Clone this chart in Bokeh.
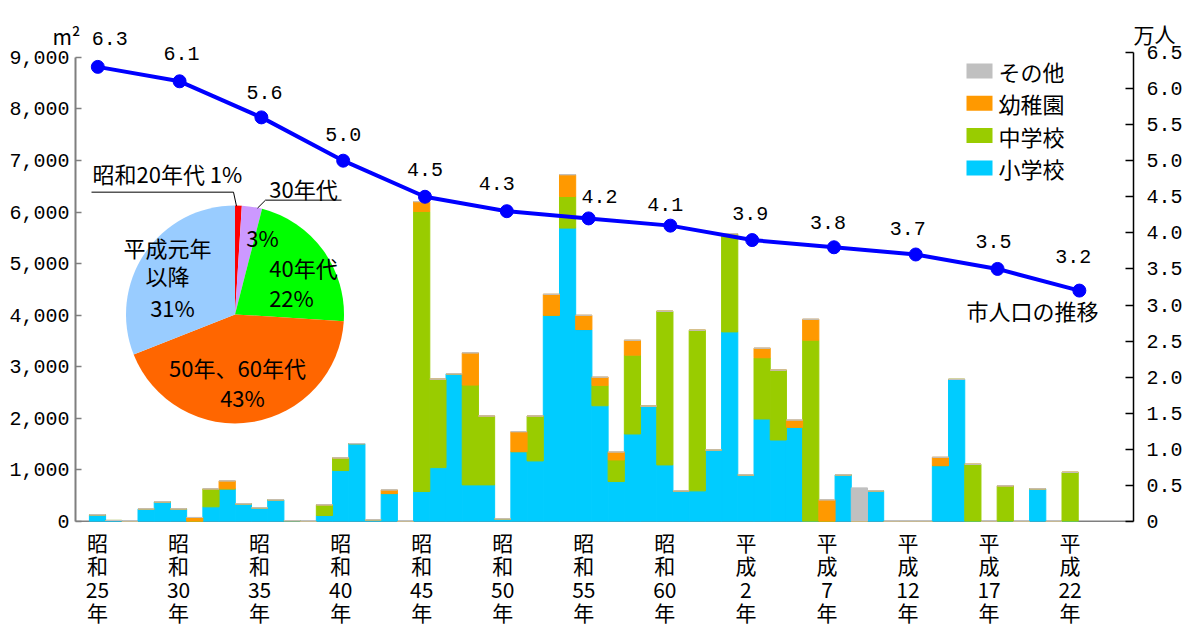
from bokeh.plotting import figure
from bokeh.models import (Range1d, LinearAxis, FixedTicker, NumeralTickFormatter,
                          ColumnDataSource, LabelSet, Span)
from bokeh.core.properties import value
from bokeh.embed import file_html
from bokeh.resources import INLINE
import math

# ---- data -------------------------------------------------------------
years = list(range(1950, 2011))

# floor area built per year (m2), by facility type
elementary = [
    130, 20, 0, 245, 381, 245, 0, 285, 633, 343,            # 1950-1959
    265, 420, 14, 0, 116, 988, 1510, 33, 542, 0,            # 1960-1969
    581, 1045, 2864, 710, 710, 52, 1355, 1175, 4000, 5690,  # 1970-1979
    3723, 2245, 775, 1697, 2239, 1097, 594, 594, 1388, 3677,  # 1980-1989
    904, 1988, 1581, 1827, 0, 0, 904, 0, 594, 0,            # 1990-1999
    0, 0, 1084, 2756, 0, 0, 0, 0, 633, 0,                   # 2000-2009
    0,                                                      # 2010
]
junior_high = [
    0, 0, 0, 0, 0, 0, 0, 348, 0, 0,
    0, 0, 0, 0, 207, 245, 0, 0, 0, 0,
    5432, 1717, 0, 1936, 1336, 0, 0, 871, 0, 613,
    0, 395, 419, 1529, 0, 2981, 0, 3116, 0, 1903,
    0, 1187, 1355, 0, 3516, 0, 0, 0, 0, 0,
    0, 0, 0, 0, 1110, 0, 691, 0, 0, 0,
    955,
]
kindergarten = [
    0, 0, 0, 0, 0, 0, 78, 0, 155, 0,
    0, 0, 0, 0, 0, 0, 0, 0, 71, 0,
    190, 0, 0, 625, 0, 0, 387, 0, 407, 423,
    277, 160, 155, 290, 0, 0, 0, 0, 0, 0,
    0, 187, 0, 141, 407, 420, 0, 0, 0, 0,
    0, 0, 162, 0, 0, 0, 0, 0, 0, 0,
    0,
]
other = [
    0, 0, 0, 0, 0, 0, 0, 0, 0, 0,
    0, 0, 0, 0, 0, 0, 0, 0, 0, 0,
    0, 0, 0, 0, 0, 0, 0, 0, 0, 0,
    0, 0, 0, 0, 0, 0, 0, 0, 0, 0,
    0, 0, 0, 0, 0, 0, 0, 652, 0, 0,
    0, 0, 0, 0, 0, 0, 0, 0, 0, 0,
    0,
]

series_names = ["小学校", "中学校", "幼稚園", "その他"]
series_colors = ["#00CCFF", "#99CC00", "#FF9900", "#C0C0C0"]

# city population (10,000 persons)
pop_years = [1950, 1955, 1960, 1965, 1970, 1975, 1980, 1985, 1990, 1995, 2000, 2005, 2010]
population = [6.3, 6.1, 5.6, 5.0, 4.5, 4.3, 4.2, 4.1, 3.9, 3.8, 3.7, 3.5, 3.2]

tick_years = [1950, 1955, 1960, 1965, 1970, 1975, 1980, 1985, 1990, 1995, 2000, 2005, 2010]
tick_labels = ["昭和25年", "昭和30年", "昭和35年", "昭和40年", "昭和45年", "昭和50年",
               "昭和55年", "昭和60年", "平成2年", "平成7年", "平成12年", "平成17年", "平成22年"]

# share of floor area by construction period (%)
pie_labels = ["昭和20年代", "30年代", "40年代", "50年、60年代", "平成元年以降"]
pie_shares = [1, 3, 22, 43, 31]
pie_colors = ["#FF0000", "#CC99FF", "#00FF00", "#FF6600", "#99CCFF"]

# unit captions above the two value axes
unit_left, unit_right = "m²", "万人"

# ---- styling ----------------------------------------------------------
JP_NAME = "Noto Sans CJK JP"
NUM_NAME = "Liberation Mono"
JP = value(JP_NAME)
NUM = value(NUM_NAME)
W, H = 1189, 630
FL, FR, FT, FB = 75, 1133, 30, 522          # frame edges in canvas pixels
AREA_PX = 51.67                             # px per 1,000 m2
POP_PX = 72.31                              # px per 10,000 persons


def sy(y):
    """canvas y (from top) -> 'px' range value (from bottom)"""
    return H - y


p = figure(width=W, height=H, output_backend="svg", toolbar_location=None,
           x_range=Range1d(1948.643, 2013.91),
           y_range=Range1d(0, (FB - FT) / AREA_PX * 1000),
           x_axis_location=None, y_axis_location="left",
           min_border_left=FL, min_border_right=W - FR,
           min_border_top=FT, min_border_bottom=H - FB)
p.extra_x_ranges = {"line": Range1d(1948.637, 2013.31), "px": Range1d(FL, FR)}
p.extra_y_ranges = {"pop": Range1d(0, (FB - FT) / POP_PX),
                    "px": Range1d(H - FB, H - FT)}
p.grid.visible = False
p.outline_line_color = None
p.background_fill_color = "white"
p.border_fill_color = "white"

# left axis: floor area
ax = p.yaxis[0]
ax.ticker = FixedTicker(ticks=list(range(0, 9001, 1000)))
ax.formatter = NumeralTickFormatter(format="0,0")
ax.bounds = (0, 9000)
ax.major_tick_in = 6
ax.major_tick_out = 0
ax.minor_tick_line_color = None
ax.axis_line_color = "#7F7F7F"
ax.axis_line_width = 2
ax.major_tick_line_color = "#7F7F7F"
ax.major_tick_line_width = 1.5
ax.major_label_text_font = NUM_NAME
ax.major_label_text_font_size = "20px"
ax.major_label_text_color = "black"
ax.major_label_standoff = 6

# right axis: population
rax = LinearAxis(y_range_name="pop",
                 ticker=FixedTicker(ticks=[i * 0.5 for i in range(14)]),
                 formatter=NumeralTickFormatter(format="0.0"),
                 bounds=(0, 6.5))
rax.major_label_overrides = {0: "0"}
rax.major_tick_in = 8
rax.major_tick_out = 0
rax.minor_tick_line_color = None
rax.axis_line_color = "black"
rax.axis_line_width = 1.5
rax.major_tick_line_width = 1.5
rax.major_label_text_font = NUM_NAME
rax.major_label_text_font_size = "20px"
rax.major_label_text_color = "black"
rax.major_label_standoff = 13
p.add_layout(rax, "right")


# unit captions: one label-only strip per value axis, pinned to the frame edge.
# A vanishingly small tilt makes the label hang to the left (negative) or to
# the right (positive) of its tick instead of being centred on it.
def caption_axis(x, text, tilt, standoff):
    a = LinearAxis(x_range_name="px", ticker=FixedTicker(ticks=[x]))
    a.major_label_overrides = {x: text}
    a.major_label_orientation = tilt
    a.axis_line_color = None
    a.major_tick_line_color = None
    a.minor_tick_line_color = None
    a.major_tick_in = 0
    a.major_tick_out = 0
    a.major_label_text_font = JP_NAME
    a.major_label_text_font_size = "21px"
    a.major_label_text_color = "black"
    a.major_label_standoff = standoff
    return a


p.add_layout(caption_axis(80, unit_left, -1e-4, -6), "above")
p.add_layout(caption_axis(FR, unit_right, 1e-4, -30), "above")

# bottom axis: era/year labels stacked one character per line
bax = LinearAxis(ticker=FixedTicker(ticks=tick_years))
bax.major_label_overrides = {
    yr: "\n".join([lab[0], lab[1], lab[2:-1], lab[-1]])
    for yr, lab in zip(tick_years, tick_labels)
}
bax.axis_line_color = None
bax.major_tick_line_color = None
bax.minor_tick_line_color = None
bax.major_tick_in = 0
bax.major_tick_out = 0
bax.major_label_text_font = JP_NAME
bax.major_label_text_font_size = "21px"
bax.major_label_text_line_height = 0.786
bax.major_label_text_color = "black"
bax.major_label_standoff = 5
p.add_layout(bax, "below")

# baseline
p.add_layout(Span(location=0, dimension="width", line_color="black",
                  line_width=1.5, level="underlay"))

# stacked bars
src = ColumnDataSource(dict(year=years, elem=elementary, jh=junior_high,
                            kg=kindergarten, oth=other))
p.vbar_stack(["elem", "jh", "kg", "oth"], x="year", width=1.0,
             color=series_colors, source=src)

# population line
p.line(pop_years, population, x_range_name="line", y_range_name="pop",
       line_width=4, color="#0000FF")
p.scatter(pop_years, population, x_range_name="line", y_range_name="pop",
          size=13, color="#0000FF")

# value labels next to each point (small per-label nudges in px)
label_dx = [12, 2, 3, 0, 0, -10, 11, -5, -2, -6, -8, -4, -6]
label_dy = [28, 28, 25, 26, 27, 28, 22, 21, 27, 25, 26, 27, 34]
pop_src = ColumnDataSource(dict(x=pop_years, y=population,
                                t=[f"{v:.1f}" for v in population],
                                dx=label_dx, dy=label_dy))
p.add_layout(LabelSet(x="x", y="y", text="t", x_offset="dx", y_offset="dy",
                      source=pop_src, x_range_name="line", y_range_name="pop",
                      text_font=NUM, text_font_size="20px", text_color="black",
                      text_align="center", text_baseline="middle"))
p.text(x=[1032], y=[sy(310)], text=["市人口の推移"], x_range_name="px", y_range_name="px",
       text_font=JP, text_font_size="22px", text_align="center",
       text_baseline="middle", text_color="black")

# legend (top entry first: その他 ... 小学校)
leg_names = series_names[::-1]
leg_colors = series_colors[::-1]
leg_y = [sy(70.5 + 32.4 * i) for i in range(len(leg_names))]
p.rect(x=[979] * len(leg_names), y=leg_y, width=26, height=15,
       x_range_name="px", y_range_name="px", fill_color=leg_colors, line_color=None)
p.text(x=[998] * len(leg_names), y=leg_y, text=leg_names,
       x_range_name="px", y_range_name="px", text_font=JP, text_font_size="22px",
       text_align="left", text_baseline="middle", text_color="black")

# pie of construction periods
cx, cy, rad = 234.5, sy(314.5), 109
cum = [0]
for s in pie_shares:
    cum.append(cum[-1] + s)
tot = float(cum[-1])
starts = [math.pi / 2 - 2 * math.pi * c / tot for c in cum[:-1]]
ends = [math.pi / 2 - 2 * math.pi * c / tot for c in cum[1:]]
p.wedge(x=[cx] * len(pie_shares), y=[cy] * len(pie_shares), radius=rad,
        start_angle=starts, end_angle=ends, direction="clock",
        fill_color=pie_colors, line_color=None,
        x_range_name="px", y_range_name="px")

# leader lines for the two small slices
p.line([91, 233, 236], [sy(192), sy(192), sy(206)], x_range_name="px", y_range_name="px",
       line_color="black", line_width=1)
p.line([341, 265, 257], [sy(200), sy(200), sy(208)], x_range_name="px", y_range_name="px",
       line_color="black", line_width=1)

p.text(x=[92], y=[sy(173)], text=[f"{pie_labels[0]} {pie_shares[0]}%"],
       x_range_name="px", y_range_name="px", text_font=JP, text_font_size="22px",
       text_align="left", text_baseline="middle", text_color="black")
pie_text = [
    (pie_labels[1], 303, 188),
    (f"{pie_shares[1]}%", 262, 237),
    (pie_labels[2], 303, 267),
    (f"{pie_shares[2]}%", 291, 297),
    (pie_labels[3], 237, 367),
    (f"{pie_shares[3]}%", 242, 397),
    (pie_labels[4][:4], 167, 247),
    (pie_labels[4][4:], 167, 275),
    (f"{pie_shares[4]}%", 172, 307),
]
p.text(x=[t[1] for t in pie_text], y=[sy(t[2]) for t in pie_text],
       text=[t[0] for t in pie_text], x_range_name="px", y_range_name="px",
       text_font=JP, text_font_size="22px", text_align="center",
       text_baseline="middle", text_color="black")

open("out.html", "w").write(file_html(p, INLINE))
